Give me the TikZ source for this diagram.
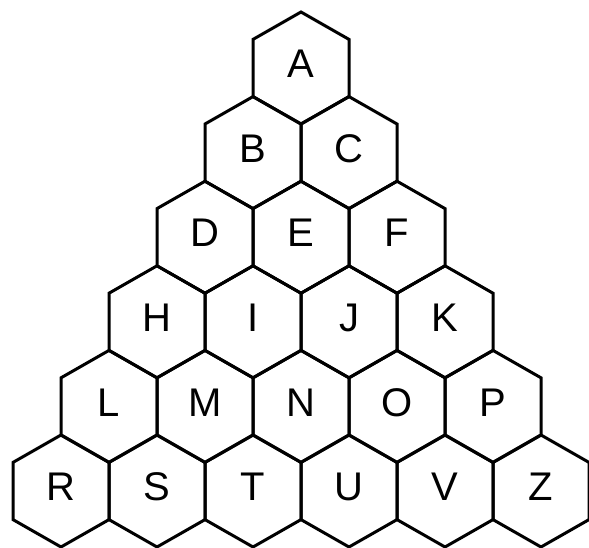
\documentclass[tikz,border=0pt]{standalone}
\usepackage{fontspec}
\setmainfont{Liberation Sans}
\begin{document}
\begin{tikzpicture}[x=1pt,y=1pt,
  hexcell/.style={draw=black,line width=3pt,line join=miter},
  letter/.style={inner sep=0pt,font=\fontsize{40}{48}\selectfont}]
\useasboundingbox (0,0) rectangle (589,-547);
\foreach \row/\names in {0/{A},1/{B,C},2/{D,E,F},3/{H,I,J,K},4/{L,M,N,O,P},5/{R,S,T,U,V,Z}}{
  \foreach \n [count=\j from 0] in \names {
    \pgfmathsetmacro{\cx}{301+(\j-\row/2)*96}
    \pgfmathsetmacro{\cy}{-(68+84.6*\row)}
    \coordinate (c\n) at (\cx,\cy);
    \draw[hexcell] (c\n) ++(0,56) -- ++(48,-27.4) -- ++(0,-57.2) -- ++(-48,-27.4) -- ++(-48,27.4) -- ++(0,57.2) -- cycle;
    \node[letter] (\n) at ([yshift=4pt]c\n) {\n};
  }
}
\end{tikzpicture}
\end{document}
